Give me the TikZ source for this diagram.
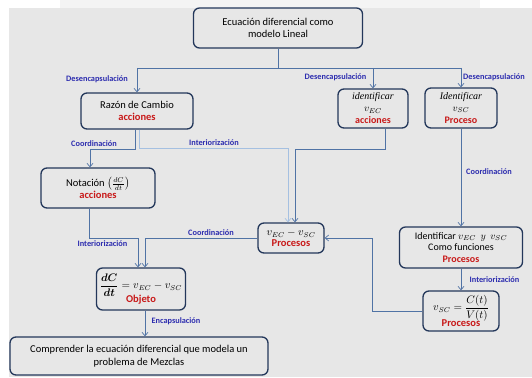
\documentclass[tikz,border=0pt]{standalone}
\usepackage{amsmath}
\usepackage{bm}
\usepackage{fontspec}
\setmainfont{Carlito}
\newfontfamily\serifit{Liberation Serif}
\usetikzlibrary{arrows.meta}
\definecolor{bgc}{RGB}{231,231,231}
\definecolor{stripc}{RGB}{244,244,244}
\definecolor{boxc}{RGB}{35,55,90}
\definecolor{conc}{RGB}{80,115,165}
\definecolor{lconc}{RGB}{165,192,225}
\definecolor{labc}{RGB}{45,45,175}
\definecolor{redc}{RGB}{200,25,25}
\newcommand\redtxt[1]{\textcolor{redc}{\bfseries #1}}
\newcommand\itword[1]{{\serifit\itshape #1}}
\tikzset{
  mybox/.style={draw=boxc, line width=1.3pt, rounded corners=6pt, fill=bgc,
    align=center, inner sep=1pt, font=\fontsize{10.5}{12.5}\selectfont},
  conn/.style={draw=conc, line width=0.9pt},
  conna/.style={conn, -{Straight Barb[length=3.5pt,width=6pt,line width=0.7pt]}},
  lconna/.style={conna, draw=lconc},
  lab/.style={text=labc, inner sep=0pt, font=\fontsize{8.3}{9}\selectfont\bfseries}
}
\begin{document}
\begin{tikzpicture}[x=1pt,y=-1pt]
\useasboundingbox (0,0) rectangle (532,377);
\fill[white] (0,0) rectangle (532,377);
\fill[stripc] (60,0) rectangle (480,8);
\fill[bgc] (9,8) rectangle (532,377);

% boxes
\node[mybox, minimum width=169pt, minimum height=40pt] (top) at (278,28)
  {Ecuación diferencial como\\modelo Lineal};
\node[mybox, minimum width=112pt, minimum height=36pt] (razon) at (137,111)
  {Razón de Cambio\\\redtxt{acciones}};
\node[mybox, minimum width=70pt, minimum height=39pt, font=\fontsize{10}{12}\selectfont] (idec) at (373,108.5)
  {\itword{identificar}\\$v_{EC}$\\\redtxt{acciones}};
\node[mybox, minimum width=72pt, minimum height=40pt, font=\fontsize{10}{12}\selectfont] (idsc) at (461,108)
  {\itword{Identificar}\\$v_{SC}$\\\redtxt{Proceso}};
\node[mybox, minimum width=114pt, minimum height=40pt] (nota) at (98,188)
  {Notación $\left(\tfrac{dC}{dt}\right)$\\[-1pt]\redtxt{acciones}};
\node[mybox, minimum width=66pt, minimum height=30pt] (vdiff) at (291,238)
  {$v_{EC}-v_{SC}$\\[-1pt]\redtxt{Procesos}};
\node[mybox, minimum width=123pt, minimum height=41pt, font=\fontsize{10}{11.5}\selectfont] (both) at (461,247.5)
  {Identificar $v_{EC}$\ \ $y$\ \ $v_{SC}$\\Como funciones\\\redtxt{Procesos}};
\node[mybox, minimum width=76pt, minimum height=40pt] (vsc) at (461,311)
  {$v_{SC}=\dfrac{C(t)}{V(t)}$\\[-2pt]\redtxt{Procesos}};
\node[mybox, minimum width=89pt, minimum height=42pt] (dcdt) at (141,289)
  {$\dfrac{\bm{dC}}{\bm{dt}}=v_{EC}-v_{SC}$\\[-2pt]\redtxt{Objeto}};
\node[mybox, minimum width=258pt, minimum height=38pt] (comp) at (139,356)
  {Comprender la ecuación diferencial que modela un\\problema de Mezclas};

% connectors
\coordinate (hub) at (278,68);
\coordinate (hl) at (137,68);
\coordinate (hr) at (461,68);
\draw[conn] (top.south) -- (hub);
\draw[conn] (hl) -- (hr);
\draw[conna] (hl) -- (razon.north);
\draw[conna] (idec.north |- hl) -- (idec.north);
\draw[conna] (hr) -- (idsc.north);

\draw[conna] ([xshift=-2]razon.south) -- ++(0,20) -| ([xshift=-8]nota.north);
\draw[lconna] ([xshift=2]razon.south) -- ++(0,19) -| ([xshift=-3]vdiff.north);
\draw[conna] ([xshift=12]idec.south) -- ++(0,20.5) -| ([xshift=4]vdiff.north);
\draw[conna] (idsc.south) -- (both.north);
\draw[conna] (both.south) -- (vsc.north);
\draw[conna] (vsc.west) -- ++(-50,0) |- (vdiff.east);
\draw[conna] ([xshift=-9]nota.south) -- ++(0,30) -| ([xshift=-3]dcdt.north);
\draw[conna] (vdiff.west) -| ([xshift=4]dcdt.north);
\draw[conna] ([xshift=4]dcdt.south) -- ([xshift=4]dcdt.south |- comp.north);

% labels
\node[lab] (l1) at (97,79) {Desencapsulación};
\node[lab] (l2) at (335.5,77) {Desencapsulación};
\node[lab, anchor=west] (l3) at (463,77) {Desencapsulación};
\node[lab] (l4) at (94,144) {Coordinación};
\node[lab] (l5) at (214,143) {Interiorización};
\node[lab] (l6) at (489,172) {Coordinación};
\node[lab] (l7) at (211,233) {Coordinación};
\node[lab] (l8) at (102.5,244) {Interiorización};
\node[lab] (l9) at (494.5,280) {Interiorización};
\node[lab] (l10) at (176,321) {Encapsulación};
\end{tikzpicture}
\end{document}
